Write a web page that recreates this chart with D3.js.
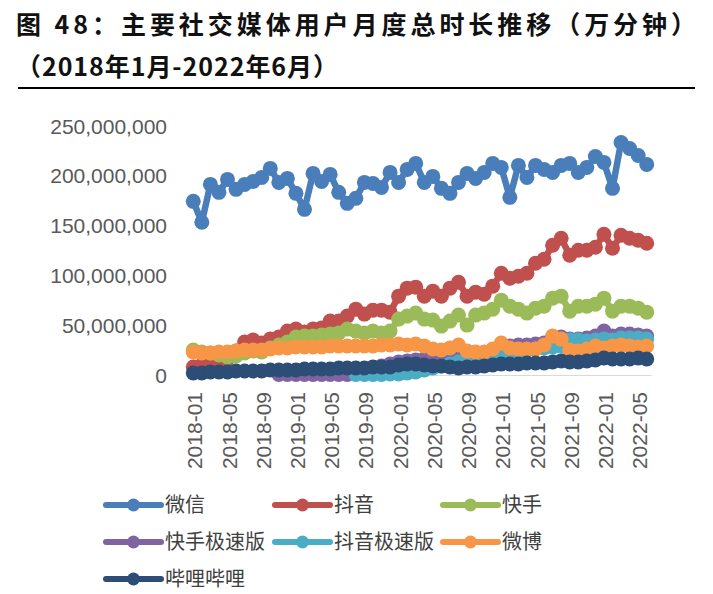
<!DOCTYPE html>
<html><head><meta charset="utf-8">
<script src="https://cdn.jsdelivr.net/npm/d3@7"></script>
<style>body{margin:0;background:#fff}svg{display:block}</style>
</head><body>
<svg id="c" width="713" height="594"></svg>
<script>
// values in millions of 万分钟 (ticks show the full numbers)
const months = [];
for (let y = 2018; y <= 2022; y++) for (let m = 1; m <= 12; m++) { if (y === 2022 && m > 6) break; months.push(y + "-" + String(m).padStart(2, "0")); }
const tickLabels = ["2018-01","2018-05","2018-09","2019-01","2019-05","2019-09","2020-01","2020-05","2020-09","2021-01","2021-05","2021-09","2022-01","2022-05"];
const yTicks = [0, 50, 100, 150, 200, 250];
const N = null;
const weixin = [174,153,191,183,196,186,191,194,198,207,193,197,182,166,202,194,201,183,172,177,193,192,188,203,193,206,212,193,199,187,182,193,202,197,203,212,208,178,210,198,210,206,203,210,212,203,208,219,213,187,233,227,220,211];
const douyin = [8,10,11,13,16,24,33,35,32,36,38,44,46,43,46,47,54,54,59,66,61,65,65,63,79,87,88,79,84,79,87,93,79,83,81,89,102,97,99,102,112,116,130,137,120,125,125,128,141,127,140,137,135,132];
const kuaishou = [25,23,22,20,18,19,22,24,23,27,30,33,38,39,39,40,41,42,46,44,42,44,42,44,56,59,62,56,55,49,54,60,50,60,62,66,75,69,66,62,67,69,77,79,64,69,69,71,77,64,69,69,67,63];
const kuaishouJisu = [N,N,N,N,N,N,N,N,N,N,0.5,0.5,0.5,0.5,0.5,0.5,0.5,0.5,0.5,3,5,7,9,11,13,14,15,16,16,17,17,18,17,18,19,21,29,29,30,30,31,32,38,38,36,36,37,39,44,39,41,41,40,39];
const douyinJisu = [N,N,N,N,N,N,N,N,N,N,N,N,N,N,N,N,N,N,N,0.5,0.5,0.5,0.5,1,1,2,3,5,7,9,11,13,14,16,18,20,22,23,24,25,26,27,28,29,35,35,34,35,36,35,37,37,37,36];
const weibo = [23,22,22,23,23,24,25,25,25,26,27,27,28,28,28,28,29,29,29,29,29,29,30,30,31,30,31,29,26,25,27,30,24,23,23,26,32,27,26,26,26,30,39,36,25,24,26,29,27,29,30,29,28,29];
const bilibili = [2,2,3,3,3,4,4,4,4,5,5,5,5,6,6,6,6,7,7,7,7,8,8,8,10,11,11,10,9,9,8,7,8,8,9,10,11,11,11,12,12,12,13,14,13,13,14,15,17,16,16,16,17,16];
const seriesNames = ["微信","抖音","快手","快手极速版","抖音极速版","微博","哔哩哔哩"];
const seriesData = [weixin, douyin, kuaishou, kuaishouJisu, douyinJisu, weibo, bilibili];
const colors = ["#4a7ebb","#c0504d","#9bbb59","#8064a2","#4bacc6","#f79646","#2c4d75"];

const svg = d3.select("#c");
const font = "'Liberation Sans', Arial, sans-serif";
const cjk = "'Noto Sans CJK SC', sans-serif";

// title
svg.append("text").attr("x", 16).attr("y", 34).attr("font-family", cjk).attr("font-weight", 700)
  .attr("font-size", 25).attr("fill", "#111").attr("textLength", 680).attr("lengthAdjust", "spacing")
  .text("图 48：主要社交媒体用户月度总时长推移（万分钟）");
svg.append("text").attr("x", 16).attr("y", 76).attr("font-family", cjk).attr("font-weight", 700)
  .attr("font-size", 25).attr("fill", "#111").attr("textLength", 322).attr("lengthAdjust", "spacing")
  .text("（2018年1月-2022年6月）");
svg.append("line").attr("x1", 18).attr("x2", 695).attr("y1", 88).attr("y2", 88).attr("stroke", "#000").attr("stroke-width", 2);

const x = d3.scaleBand().domain(months).range([189, 651]);
const y = d3.scaleLinear().domain([0, 250]).range([375, 125.5]);
const cx = d => x(d) + x.bandwidth() / 2;

// y axis labels
const yAxis = d3.axisLeft(y).tickValues(yTicks).tickSize(0).tickPadding(0)
  .tickFormat(d => d3.format(",")(d * 1e6));
const gy = svg.append("g").attr("transform", "translate(167,0)").call(yAxis);
gy.select(".domain").remove();
gy.selectAll("text").attr("font-family", font).attr("font-size", 21).attr("fill", "#595959").attr("dy", "0.36em");

// x axis
const xAxis = d3.axisBottom(x).tickValues(tickLabels).tickSize(0).tickPadding(0);
const gx = svg.append("g").attr("transform", "translate(0,375)").call(xAxis);
gx.select(".domain").attr("stroke", "#d9d9d9").attr("stroke-width", 1.2);
gx.selectAll("text").attr("font-family", font).attr("font-size", 21).attr("fill", "#595959")
  .attr("transform", "rotate(-90)").attr("text-anchor", "end").attr("x", -17).attr("y", 0).attr("dy", "0.36em")
  .attr("dx", 0);
gx.selectAll(".tick").attr("transform", d => `translate(${cx(d) + 1.5},0)`);

// series
const line = d3.line().defined(d => d.v !== null).x(d => cx(d.m)).y(d => y(d.v));
seriesData.forEach((arr, i) => {
  const pts = arr.map((v, j) => ({ m: months[j], v }));
  const g = svg.append("g");
  g.append("path").datum(pts).attr("d", line).attr("fill", "none").attr("stroke", colors[i])
    .attr("stroke-width", 6.5).attr("stroke-linejoin", "round");
  g.selectAll("circle").data(pts.filter(d => d.v !== null)).join("circle")
    .attr("cx", d => cx(d.m)).attr("cy", d => y(d.v)).attr("r", 7.5).attr("fill", colors[i]);
});

// legend
const legPos = [[106,505],[275,505],[443,505],[106,542],[275,542],[443,542],[106,579]];
seriesNames.forEach((n, i) => {
  const [lx, ly] = legPos[i];
  const g = svg.append("g");
  g.append("line").attr("x1", lx).attr("x2", lx + 55).attr("y1", ly).attr("y2", ly)
    .attr("stroke", colors[i]).attr("stroke-width", 6).attr("stroke-linecap", "round");
  g.append("circle").attr("cx", lx + 27.5).attr("cy", ly).attr("r", 6.5).attr("fill", colors[i]);
  g.append("text").attr("x", lx + 59).attr("y", ly).attr("dy", "0.36em").attr("font-family", cjk)
    .attr("font-size", 20).attr("fill", "#404040").text(n);
});
</script>
</body></html>
